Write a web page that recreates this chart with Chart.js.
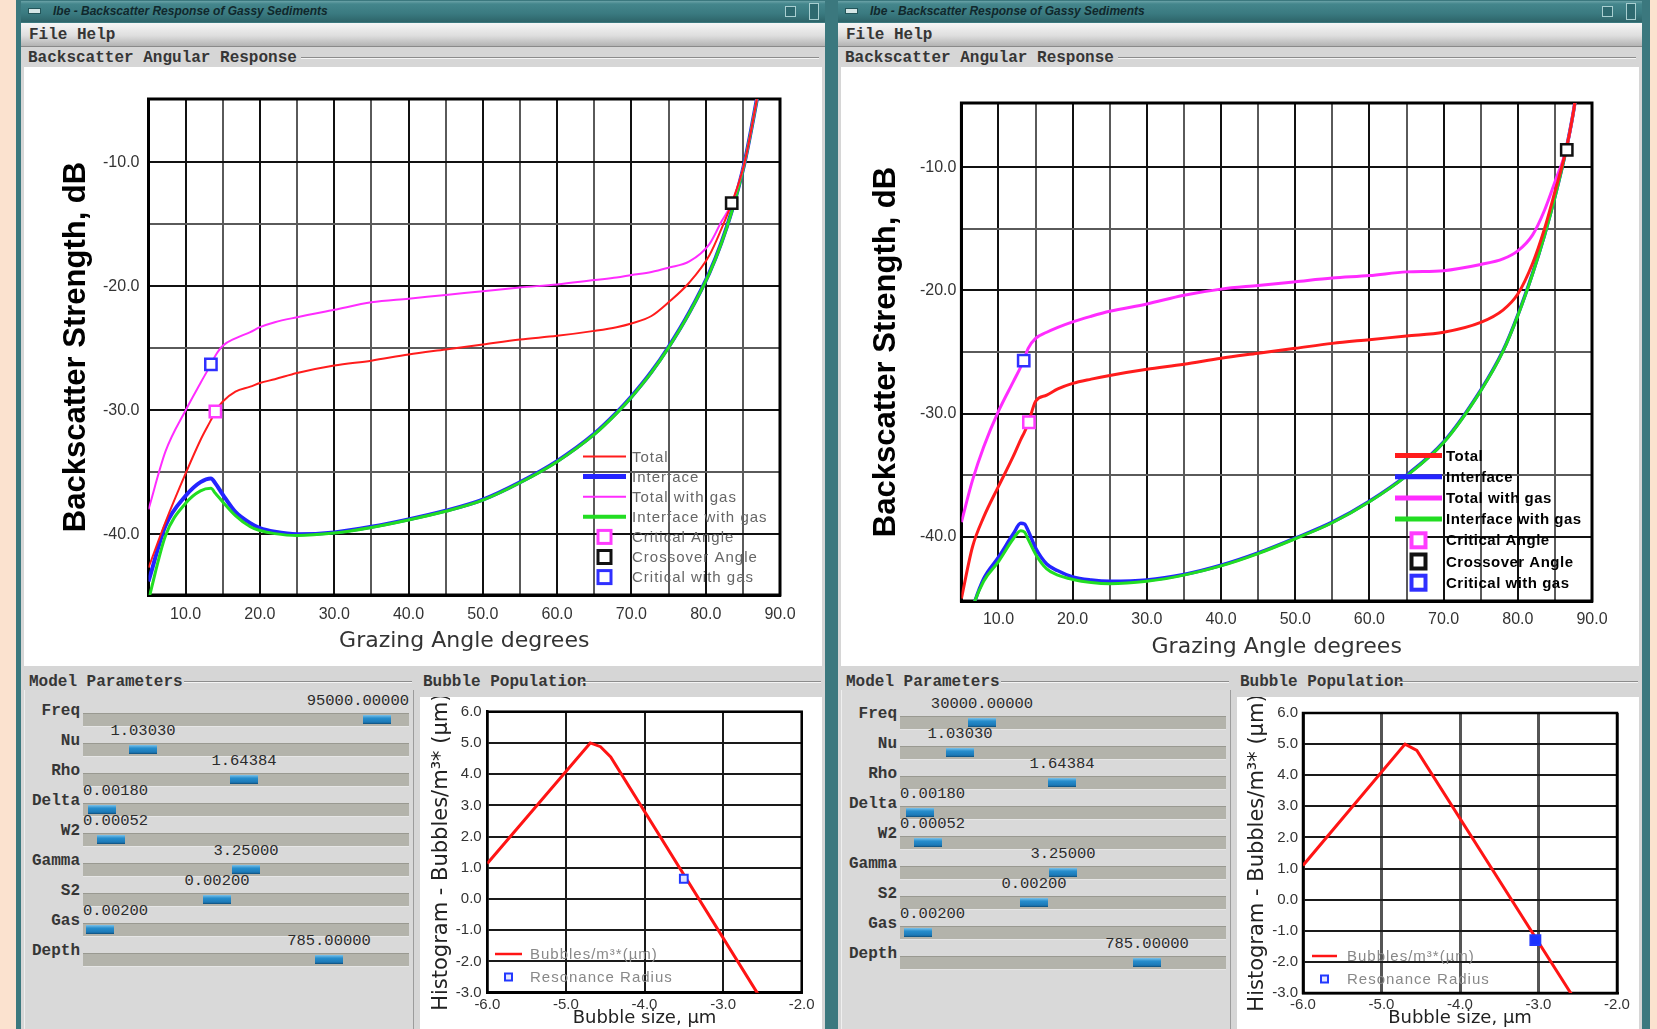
<!DOCTYPE html>
<html>
<head>
<meta charset="utf-8">
<title>Backscatter Response of Gassy Sediments</title>
<script src="https://cdn.jsdelivr.net/npm/chart.js@4.4.1/dist/chart.umd.min.js"></script>
<style>
  html, body { margin: 0; padding: 0; }
  body { width: 1657px; height: 1029px; background: #fbe2cf; position: relative; overflow: hidden; }
  .abs { position: absolute; box-sizing: border-box; }
  canvas { position: absolute; z-index: 2; }
  .frame { background: #3b787e; }
  .titlebar { background: linear-gradient(#6aa2a7 0, #44868c 3px, #3a7a80 60%, #2d6469 100%); }
  .ticon { background: #d4e6e6; border: 1px solid #24565a; }
  .tbtn { background: #2e6a70; border: 1px solid #a9cfd1; }
  .titletext { font: italic bold 12px/17px 'Liberation Sans', sans-serif; color: #10282c; white-space: nowrap; }
  .content { background: #d6d6d6; }
  .menubar { background: linear-gradient(#f6f6f6, #dedede 55%, #b3b3b3); border-bottom: 1px solid #8a8a8a; }
  .mono { font: bold 16px/17px 'Liberation Mono', monospace; color: #363636; white-space: nowrap; }
  .plabel { text-align: right; }
  .etch { border-top: 1px solid #8c8c8c; border-bottom: 1px solid #f4f4f4; height: 2px; }
  .white { background: #fff; }
  .panel { background: #d9d9d9; border-left: 1px solid #efefef; border-right: 1px solid #9c9c9c; }
  .trough { background: #b3b3ab; box-shadow: inset 0 1px 0 #999991, inset 0 -1px 0 #e6e6e6; }
  .thumb { background: linear-gradient(#7cc2ea, #268dcc 35%, #1c79b7 80%, #0f4d78); }
  .val { font: 15.5px/17px 'Liberation Mono', monospace; color: #2b2b2b; white-space: nowrap; }
</style>
</head>
<body>
<canvas id="mainL" width="798" height="599" style="left:24px;top:67px"></canvas>
<canvas id="mainR" width="797" height="599" style="left:840px;top:67px"></canvas>
<canvas id="bubL" width="402" height="332" style="left:420px;top:697px"></canvas>
<canvas id="bubR" width="398" height="332" style="left:1238px;top:697px"></canvas>
<script>
// axis ticks
const angleTicks = [5, 10, 15, 20, 25, 30, 35, 40, 45, 50, 55, 60, 65, 70, 75, 80, 85, 90];
const dbTicks = [-40, -35, -30, -25, -20, -15, -10];
const sizeTicks = [-6, -5, -4, -3, -2];
const countTicks = [-3, -2, -1, 0, 1, 2, 3, 4, 5, 6];

const seriesLabels = ['Total', 'Interface', 'Total with gas', 'Interface with gas'];
const markerLabels = ['Critical Angle', 'Crossover Angle', 'Critical with gas'];
const bubbleLabels = ['Bubbles/m³*(µm)', 'Resonance Radius'];

// left window (95 kHz)
const leftAngles = [5, 7.3, 10, 12, 13.4, 14, 15, 16.7, 18.7, 20, 22, 25, 30, 35, 40, 45, 50, 55, 60, 65, 68, 70, 72.7, 75, 77.8, 80.5, 82.1, 83.5, 85.2, 86.8, 88];
const leftTotal = [-42.7, -39.0, -35.1, -32.4, -30.8, -30.1, -29.3, -28.5, -28.1, -27.8, -27.5, -27.0, -26.4, -26.0, -25.5, -25.1, -24.7, -24.3, -24.0, -23.6, -23.3, -23.0, -22.4, -21.3, -19.7, -17.5, -15.4, -13.3, -10.1, -5.2, -1.0];
const leftInterface = [-43.8, -39.3, -36.9, -35.8, -35.5, -35.9, -36.8, -38.2, -39.1, -39.5, -39.8, -40.0, -39.85, -39.4, -38.8, -38.1, -37.2, -35.8, -34.1, -31.9, -30.2, -28.9, -26.9, -24.9, -22.1, -18.9, -16.5, -13.95, -10.1, -5.2, -1.0];
const leftTotalGas = [-38.0, -33.3, -30.0, -27.8, -26.3, -25.6, -24.8, -24.2, -23.7, -23.3, -22.9, -22.5, -21.9, -21.3, -21.0, -20.7, -20.4, -20.1, -19.85, -19.5, -19.3, -19.1, -18.85, -18.5, -18.0, -16.6, -14.8, -13.3, -10.1, -5.2, -1.0];
const leftInterfaceGas = [-45.3, -40.1, -37.5, -36.5, -36.3, -36.7, -37.4, -38.5, -39.4, -39.7, -39.95, -40.1, -39.9, -39.45, -38.85, -38.15, -37.25, -35.85, -34.15, -31.95, -30.25, -28.95, -26.95, -24.95, -22.15, -18.95, -16.55, -14.0, -10.15, -5.25, -1.05];
const leftMarkAngles = [14.0, 83.5, 13.4];
const leftMarkValues = [-30.1, -13.3, -26.3];
const leftSizes = [-6.0, -4.69, -4.56, -4.43, -2.56, -2.4];
const leftCounts = [1.14, 5.0, 4.88, 4.55, -3.03, -3.68];
const leftResSize = [-3.5];
const leftResCount = [0.65];

// right window (30 kHz)
const rightAngles = [5, 6.5, 8, 10, 12, 13, 13.5, 14, 15, 16.5, 18, 20, 22.5, 25, 30, 35, 40, 45, 50, 55, 60, 65, 70, 75, 78, 80, 82, 83.6, 85, 86.5, 87.5, 88.5];
const rightTotal = [-45.0, -40.8, -38.4, -35.9, -33.45, -32.1, -31.5, -30.8, -29.0, -28.5, -28.0, -27.55, -27.2, -26.9, -26.4, -26.0, -25.5, -25.1, -24.7, -24.3, -24.0, -23.7, -23.4, -22.6, -21.6, -20.3, -17.8, -15.0, -12.0, -8.6, -5.5, -1.5];
const rightInterface = [-49.0, -45.8, -43.4, -41.65, -39.75, -38.9, -38.95, -39.5, -40.9, -42.2, -42.75, -43.25, -43.5, -43.6, -43.5, -43.05, -42.3, -41.3, -40.1, -38.8, -37.1, -35.0, -32.3, -28.1, -24.9, -22.0, -18.6, -15.5, -12.4, -8.6, -5.5, -1.5];
const rightTotalGas = [-38.8, -35.4, -32.7, -29.8, -27.4, -26.2, -25.5, -24.7, -23.9, -23.4, -23.0, -22.55, -22.1, -21.7, -21.1, -20.4, -19.9, -19.6, -19.3, -19.0, -18.8, -18.5, -18.4, -17.9, -17.45, -16.8, -15.5, -13.5, -11.2, -8.6, -5.5, -1.5];
const rightInterfaceGas = [-50.0, -45.8, -43.6, -42.0, -40.15, -39.5, -39.6, -40.2, -41.4, -42.6, -43.1, -43.45, -43.7, -43.8, -43.6, -43.1, -42.35, -41.35, -40.15, -38.85, -37.15, -35.05, -32.35, -28.15, -24.95, -22.05, -18.65, -15.55, -12.45, -8.65, -5.55, -1.55];
const rightMarkAngles = [14.1, 86.6, 13.4];
const rightMarkValues = [-30.7, -8.6, -25.7];
const rightSizes = [-6.0, -4.70, -4.55, -2.59, -2.4];
const rightCounts = [1.1, 5.0, 4.8, -3.0, -3.77];
const rightResSize = [-3.04];
const rightResCount = [-1.3];

// slider panel text
const paramNames = ['Freq', 'Nu', 'Rho', 'Delta', 'W2', 'Gamma', 'S2', 'Gas', 'Depth'];
const leftParams = ['95000.00000', '1.03030', '1.64384', '0.00180', '0.00052', '3.25000', '0.00200', '0.00200', '785.00000'];
const rightParams = ['30000.00000', '1.03030', '1.64384', '0.00180', '0.00052', '3.25000', '0.00200', '0.00200', '785.00000'];
const leftThumbs = [280, 46, 147, 5, 14, 149, 120, 3, 232];
const rightThumbs = [68, 46, 148, 6, 14, 149, 120, 4, 233];

function box(cls, x, y, w, h, text) {
  const el = document.createElement('div');
  el.className = 'abs ' + cls;
  el.style.left = x + 'px'; el.style.top = y + 'px';
  el.style.width = w + 'px'; el.style.height = h + 'px';
  if (text) el.textContent = text;
  document.body.appendChild(el);
  return el;
}

function buildWindow(cx, frameX, frameW, rowTop, values, thumbs) {
  box('frame', frameX, 0, frameW, 1029);
  box('titlebar', cx, 1, 804, 21);
  box('ticon', cx + 7, 8, 13, 6);
  box('titletext', cx + 32, 3, 500, 17, 'Ibe - Backscatter Response of Gassy Sediments');
  box('tbtn', cx + 764, 6, 11, 11);
  box('tbtn', cx + 788, 3, 10, 17);
  box('content', cx, 23, 804, 1006);
  box('menubar', cx, 23, 804, 24);
  box('mono', cx + 8, 27, 200, 17, 'File Help');
  box('mono', cx + 7, 50, 300, 17, 'Backscatter Angular Response');
  box('etch', cx + 280, 57, 518, 0);
  box('white', cx + 3, 67, 798, 599);
  box('panel', cx + 3, 690, 390, 340);
  box('mono', cx + 8, 674, 200, 17, 'Model Parameters');
  box('etch', cx + 163, 681, 228, 0);
  box('mono', cx + 402, 674, 200, 17, 'Bubble Population');
  box('etch', cx + 560, 681, 240, 0);
  box('white', cx + 399, 697, 402, 332);

  const tl = cx + 62, tw = 326;
  paramNames.forEach((name, i) => {
    const y = rowTop + i * 30;
    box('mono plabel', cx + 1, y - 10, 58, 17, name);
    box('trough', tl, y, tw, 14);
    const tx = tl + thumbs[i];
    box('thumb', tx, y + 2, 28, 9);
    const w = values[i].length * 9.3;
    const vx = Math.max(tl, Math.min(tl + tw - w, tx + 14 - w / 2));
    box('val', vx, y - 20, w + 4, 17, values[i]);
  });
}

buildWindow(21, 16, 813, 713, leftParams, leftThumbs);
buildWindow(838, 829, 821, 716, rightParams, rightThumbs);

// legend drawn inside the plot
const insideLegend = {
  id: 'insideLegend',
  afterDatasetsDraw(chart, args, o) {
    if (o.x === undefined) return;
    const ctx = chart.ctx;
    ctx.save();
    ctx.font = o.font;
    ctx.textBaseline = 'middle';
    if ('letterSpacing' in ctx) ctx.letterSpacing = o.spacing || '0px';
    chart.data.datasets.forEach((ds, i) => {
      const y = o.y + i * o.rowH;
      if (ds.showLine) {
        ctx.strokeStyle = ds.borderColor;
        ctx.lineWidth = ds.legendWidth || ds.borderWidth;
        ctx.beginPath(); ctx.moveTo(o.x, y); ctx.lineTo(o.x + o.lineLen, y); ctx.stroke();
      } else {
        const h = o.box / 2, c = o.x + o.lineLen / 2;
        ctx.fillStyle = ds.legendFill || '#fff';
        ctx.fillRect(c - h, y - h, o.box, o.box);
        ctx.strokeStyle = ds.legendColor || ds.borderColor;
        ctx.lineWidth = o.boxLine;
        ctx.strokeRect(c - h, y - h, o.box, o.box);
      }
      ctx.fillStyle = o.color;
      ctx.fillText(ds.label, o.x + o.lineLen + o.gap, y + 1);
    });
    ctx.restore();
  }
};

const plotFrame = {
  id: 'plotFrame',
  beforeDatasetsDraw(chart, args, o) {
    const a = chart.chartArea, ctx = chart.ctx;
    ctx.save();
    ctx.strokeStyle = '#000';
    ctx.lineWidth = o.width || 2.5;
    ctx.strokeRect(a.left, a.top, a.right - a.left, a.bottom - a.top);
    ctx.restore();
  }
};
Chart.register(insideLegend, plotFrame);

const pts = (xs, ys) => xs.map((x, i) => ({ x: x, y: ys[i] }));

function backscatterChart(id, d, g) {
  const colors = ['#ff1c1c', '#2424ff', '#ff2cff', '#22dd22'];
  const orders = [2, 4, 2, 3];
  const series = [d.total, d.iface, d.totalGas, d.ifaceGas];
  const lines = series.map((vals, i) => ({
    label: seriesLabels[i],
    data: pts(d.angles, vals),
    showLine: true,
    borderColor: colors[i],
    borderWidth: g.widths[i],
    legendWidth: g.legendWidths[i],
    pointRadius: 0,
    cubicInterpolationMode: 'monotone',
    order: orders[i]
  }));
  const markColors = ['#ff3cff', '#111111', '#3030ff'];
  const marks = markerLabels.map((lab, i) => ({
    label: lab,
    data: [{ x: d.markAngles[i], y: d.markValues[i] }],
    pointStyle: 'rect',
    pointRadius: 8,
    borderWidth: 2.5,
    borderColor: markColors[i],
    backgroundColor: '#ffffff',
    order: 0
  }));
  const tickFont = { family: 'Liberation Sans', size: 16 };
  new Chart(document.getElementById(id), {
    type: 'scatter',
    data: { datasets: lines.concat(marks) },
    options: {
      responsive: false,
      animation: false,
      events: [],
      layout: { padding: { left: 0, top: g.padTop, right: g.padRight, bottom: 0 } },
      plugins: {
        legend: { display: false },
        tooltip: { enabled: false },
        insideLegend: g.legend,
        plotFrame: { width: 3 }
      },
      scales: {
        x: {
          type: 'linear', min: 5, max: 90,
          afterBuildTicks: s => { s.ticks = angleTicks.map(v => ({ value: v })); },
          afterFit: s => { s.height = g.xAxisH; },
          ticks: { padding: g.xTickPad, font: tickFont, color: '#333', maxRotation: 0, autoSkip: false,
                   callback: v => v % 10 === 0 ? v.toFixed(1) : '' },
          grid: { color: c => c.tick && c.tick.value % 10 === 0 ? '#111' : '#5a5a5a', lineWidth: 2, drawTicks: false },
          border: { color: '#000', width: 3 },
          title: { display: true, text: 'Grazing Angle degrees', color: '#333',
                   font: { family: 'DejaVu Sans', size: 22 }, padding: { top: 0, bottom: g.xTitlePad } }
        },
        y: {
          type: 'linear', min: g.yMin, max: g.yMax,
          afterBuildTicks: s => { s.ticks = dbTicks.map(v => ({ value: v })); },
          afterFit: s => { s.width = g.yAxisW; },
          ticks: { padding: g.yTickPad, font: tickFont, color: '#333', autoSkip: false,
                   callback: v => v % 10 === 0 ? v.toFixed(1) : '' },
          grid: { color: c => c.tick && c.tick.value % 10 === 0 ? '#111' : '#5a5a5a', lineWidth: 2, drawTicks: false },
          border: { color: '#000', width: 3 },
          title: { display: true, text: 'Backscatter Strength, dB', color: '#000',
                   font: { family: 'Liberation Sans', size: 31, weight: 'bold' }, padding: { top: g.yTitlePad, bottom: 0 } }
        }
      }
    }
  });
}

function bubbleChart(id, d, g) {
  const tickFont = { family: 'Liberation Sans', size: 15 };
  new Chart(document.getElementById(id), {
    type: 'scatter',
    data: {
      datasets: [
        { label: bubbleLabels[0], data: pts(d.sizes, d.counts), showLine: true,
          borderColor: '#ff1414', borderWidth: 3, legendWidth: 2.5, pointRadius: 0, tension: 0, order: 1 },
        { label: bubbleLabels[1], data: pts(d.resSize, d.resCount), pointStyle: 'rect',
          pointRadius: g.markR, borderWidth: 2, borderColor: '#2238ff', backgroundColor: g.markFill,
          legendFill: '#e4e6ff', order: 0 }
      ]
    },
    options: {
      responsive: false,
      animation: false,
      events: [],
      layout: { padding: { left: 0, top: g.padTop, right: g.padRight, bottom: 0 } },
      plugins: {
        legend: { display: false },
        tooltip: { enabled: false },
        insideLegend: g.legend,
        plotFrame: { width: 2.5 }
      },
      scales: {
        x: {
          type: 'linear', min: -6, max: -2,
          afterBuildTicks: s => { s.ticks = sizeTicks.map(v => ({ value: v })); },
          afterFit: s => { s.height = g.xAxisH; },
          ticks: { padding: g.xTickPad, font: tickFont, color: '#333', maxRotation: 0, autoSkip: false,
                   callback: v => v.toFixed(1) },
          grid: { color: g.vGrid, lineWidth: g.vGridW, drawTicks: false },
          border: { color: '#000', width: 2.5 },
          title: { display: true, text: 'Bubble size, µm', color: '#222',
                   font: { family: 'DejaVu Sans', size: 18, lineHeight: 1 }, padding: { top: 0, bottom: g.xTitlePad } }
        },
        y: {
          type: 'linear', min: -3, max: 6,
          afterBuildTicks: s => { s.ticks = countTicks.map(v => ({ value: v })); },
          afterFit: s => { s.width = g.yAxisW; },
          ticks: { padding: g.yTickPad, font: tickFont, color: '#333', autoSkip: false,
                   callback: v => v.toFixed(1) },
          grid: { color: '#1a1a1a', lineWidth: 2, drawTicks: false },
          border: { color: '#000', width: 2.5 },
          title: { display: true, text: 'Histogram - Bubbles/m³* (µm)', color: '#222',
                   font: { family: 'DejaVu Sans', size: 21 }, padding: { top: g.yTitlePad, bottom: 0 } }
        }
      }
    }
  });
}

backscatterChart('mainL',
  { angles: leftAngles, total: leftTotal, iface: leftInterface, totalGas: leftTotalGas, ifaceGas: leftInterfaceGas,
    markAngles: leftMarkAngles, markValues: leftMarkValues },
  { yMin: -44.9, yMax: -4.9, yAxisW: 124.5, xAxisH: 71, padTop: 32, padRight: 42,
    yTickPad: 9, xTickPad: 10, yTitlePad: 33.4, xTitlePad: 11.8,
    widths: [2, 4, 2, 3], legendWidths: [2, 5, 2, 4],
    legend: { x: 559, y: 389.5, rowH: 20.1, lineLen: 43, gap: 6, box: 13, boxLine: 3,
              font: '15px "Liberation Sans"', color: '#666', spacing: '1px' } });

backscatterChart('mainR',
  { angles: rightAngles, total: rightTotal, iface: rightInterface, totalGas: rightTotalGas, ifaceGas: rightInterfaceGas,
    markAngles: rightMarkAngles, markValues: rightMarkValues },
  { yMin: -45.2, yMax: -4.8, yAxisW: 121.4, xAxisH: 65, padTop: 36, padRight: 45,
    yTickPad: 5, xTickPad: 9, yTitlePad: 27.4, xTitlePad: 5.8,
    widths: [3, 3.5, 3, 3], legendWidths: [5, 5, 5, 5],
    legend: { x: 555, y: 388.5, rowH: 21.2, lineLen: 47, gap: 4, box: 14, boxLine: 4,
              font: 'bold 15px "Liberation Sans"', color: '#000', spacing: '0.5px' } });

bubbleChart('bubL',
  { sizes: leftSizes, counts: leftCounts, resSize: leftResSize, resCount: leftResCount },
  { yAxisW: 67.3, xAxisH: 36.3, padTop: 14.7, padRight: 20.3, yTickPad: 5.6, xTickPad: 3,
    yTitlePad: 9.1, xTitlePad: 2, markR: 5.5, markFill: '#dfe2ff', vGrid: '#1a1a1a', vGridW: 2,
    legend: { x: 75, y: 257, rowH: 23, lineLen: 27, gap: 8, box: 7, boxLine: 2,
              font: '15px "Liberation Sans"', color: '#888', spacing: '1px' } });

bubbleChart('bubR',
  { sizes: rightSizes, counts: rightCounts, resSize: rightResSize, resCount: rightResCount },
  { yAxisW: 65, xAxisH: 36, padTop: 16, padRight: 19, yTickPad: 5, xTickPad: 3,
    yTitlePad: 7.4, xTitlePad: 2, markR: 7, markFill: '#1b33ff', vGrid: '#555', vGridW: 3,
    legend: { x: 74, y: 259, rowH: 23, lineLen: 25, gap: 10, box: 7, boxLine: 2,
              font: '15px "Liberation Sans"', color: '#888', spacing: '1px' } });
</script>
</body>
</html>
